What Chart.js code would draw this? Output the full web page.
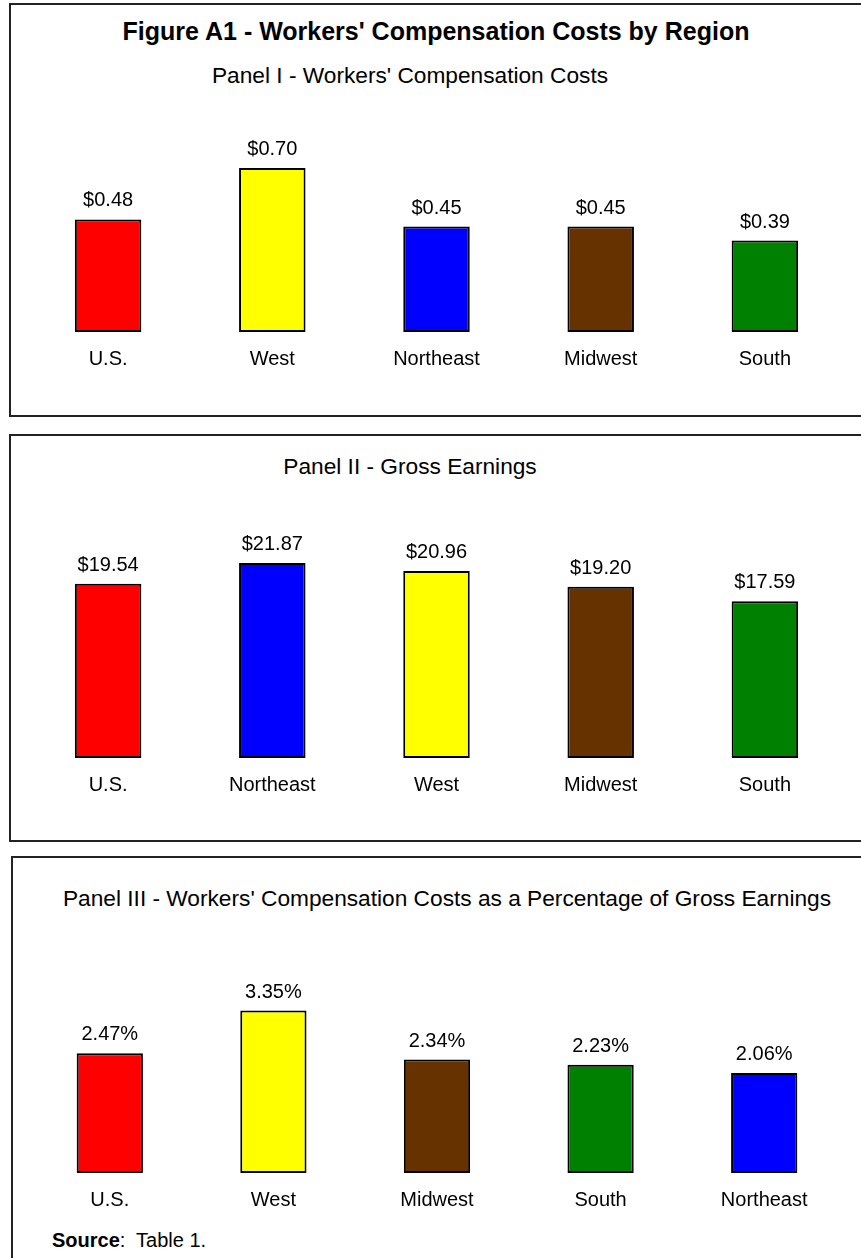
<!DOCTYPE html>
<html>
<head>
<meta charset="utf-8">
<script src="https://cdn.jsdelivr.net/npm/chart.js@4"></script>
<style>
  html, body { margin: 0; padding: 0; background: #fff; width: 861px; height: 1258px; overflow: hidden; position: relative; font-family: "Liberation Sans", Arial, sans-serif; color: #000; }
  .panel { position: absolute; box-sizing: border-box; border: 2px solid #222; background: #fff; }
  .ttl { position: absolute; white-space: nowrap; text-align: center; line-height: 1; }
  canvas { position: absolute; }
</style>
</head>
<body>
<div class="panel" style="left:9px; top:3px; width:900px; height:414px;"></div>
<div class="panel" style="left:9px; top:434px; width:900px; height:408px;"></div>
<div class="panel" style="left:11px; top:856px; width:900px; height:450px;"></div>

<div class="ttl" style="left:36px; width:800px; top:19px; font-size:25px; font-weight:bold;">Figure A1 - Workers' Compensation Costs by Region</div>
<div class="ttl" style="left:10px; width:800px; top:64px; font-size:22.7px;">Panel I - Workers' Compensation Costs</div>
<div class="ttl" style="left:10px; width:800px; top:455px; font-size:22.7px;">Panel II - Gross Earnings</div>
<div class="ttl" style="left:47px; width:800px; top:887px; font-size:22.7px;">Panel III - Workers' Compensation Costs as a Percentage of Gross Earnings</div>
<div class="ttl" style="left:52px; top:1230px; font-size:20px; text-align:left;"><b>Source</b>:&nbsp; Table 1.</div>

<canvas id="c1" width="821" height="301" style="left:26px; top:81px;"></canvas>
<canvas id="c2" width="821" height="304" style="left:26px; top:504px;"></canvas>
<canvas id="c3" width="818" height="284" style="left:28px; top:939px;"></canvas>

<script>
// Panel I - Workers' Compensation Costs
const p1Categories = ["U.S.", "West", "Northeast", "Midwest", "South"];
const p1Values = [0.48, 0.70, 0.45, 0.45, 0.39];
const p1Labels = ["$0.48", "$0.70", "$0.45", "$0.45", "$0.39"];

// Panel II - Gross Earnings
const p2Categories = ["U.S.", "Northeast", "West", "Midwest", "South"];
const p2Values = [19.54, 21.87, 20.96, 19.20, 17.59];
const p2Labels = ["$19.54", "$21.87", "$20.96", "$19.20", "$17.59"];

// Panel III - Costs as a percentage of gross earnings
const p3Categories = ["U.S.", "West", "Midwest", "South", "Northeast"];
const p3Values = [2.47, 3.35, 2.34, 2.23, 2.06];
const p3Labels = ["2.47%", "3.35%", "2.34%", "2.23%", "2.06%"];

const regionColors = {
  "U.S.": "#FF0000",
  "West": "#FFFF00",
  "Northeast": "#0000FF",
  "Midwest": "#663300",
  "South": "#008000"
};

const FONT = "'Liberation Sans', Arial, sans-serif";

const valueLabelPlugin = {
  id: 'valueLabels',
  afterDatasetsDraw(chart) {
    const ctx = chart.ctx;
    const labels = chart.options.plugins.valueLabels.labels;
    const meta = chart.getDatasetMeta(0);
    ctx.save();
    ctx.font = "20px " + FONT;
    ctx.fillStyle = "#000";
    ctx.textAlign = "center";
    ctx.textBaseline = "alphabetic";
    meta.data.forEach((bar, i) => {
      ctx.fillText(labels[i], bar.x, bar.y - 13);
    });
    ctx.restore();
  }
};

function makeChart(id, cats, vals, labels, maxY) {
  return new Chart(document.getElementById(id), {
    type: 'bar',
    data: {
      labels: cats,
      datasets: [{
        data: vals,
        backgroundColor: cats.map(c => regionColors[c]),
        borderColor: "#000",
        borderWidth: 2,
        borderSkipped: false,
        categoryPercentage: 1.0,
        barPercentage: 0.405
      }]
    },
    options: {
      responsive: false,
      animation: false,
      devicePixelRatio: 1,
      layout: { padding: { top: 40, left: 0, right: 0, bottom: 0 } },
      plugins: {
        legend: { display: false },
        tooltip: { enabled: false },
        title: { display: false },
        valueLabels: { labels: labels }
      },
      scales: {
        x: {
          grid: { display: false, drawTicks: false },
          border: { display: false },
          ticks: { color: "#000", font: { family: FONT, size: 20 }, padding: 15, maxRotation: 0 },
          afterFit(s) { s.height = 50; }
        },
        y: {
          display: false,
          min: 0,
          max: maxY
        }
      }
    },
    plugins: [valueLabelPlugin]
  });
}

makeChart('c1', p1Categories, p1Values, p1Labels, 0.9);
makeChart('c2', p2Categories, p2Values, p2Labels, 24);
makeChart('c3', p3Categories, p3Values, p3Labels, 4);
</script>
</body>
</html>
